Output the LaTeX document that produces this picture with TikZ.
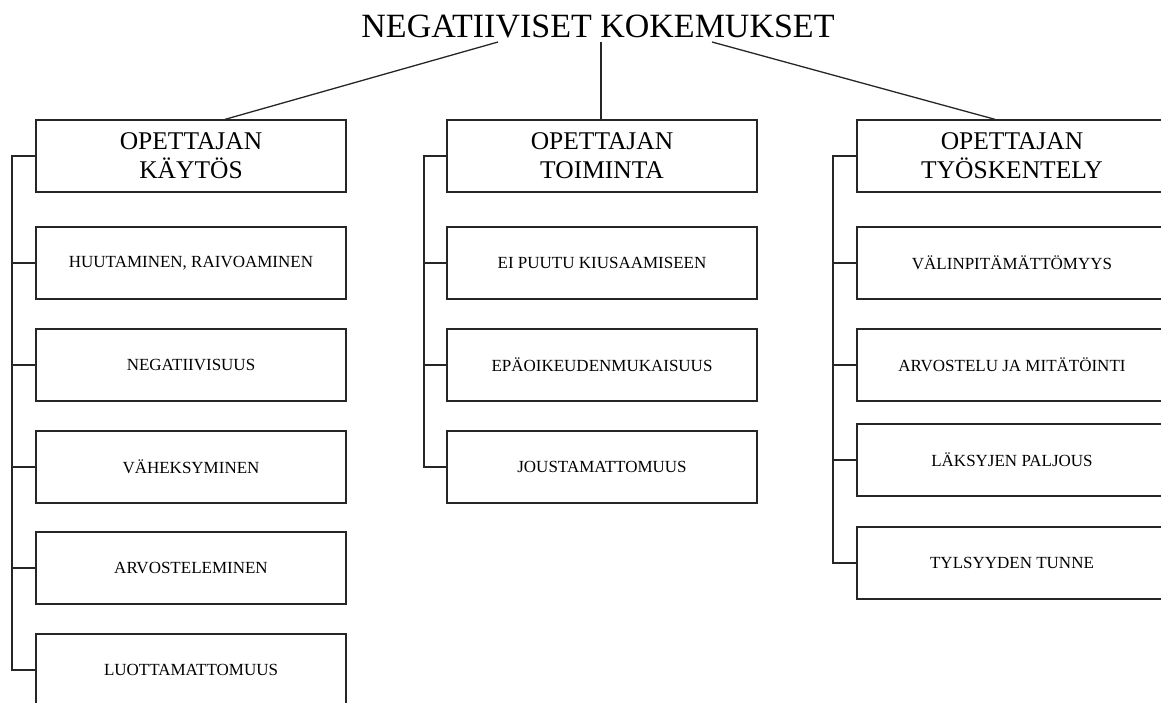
\documentclass[tikz,border=0pt]{standalone}
\usepackage{fontspec}
\setmainfont{Liberation Serif}
\usepackage{tikz}

\begin{document}
\begin{tikzpicture}[x=1pt, y=-1pt,
	every path/.style={draw=black!85, line width=1.3pt},
	every edge/.style={draw=black!85, line width=1.3pt},
	box/.style={rectangle, draw=black!85, line width=1.3pt, minimum width=310pt, minimum height=72pt, inner sep=0pt, font=\fontsize{17}{20}\selectfont},
	head/.style={box, align=center, font=\fontsize{25.5}{29}\selectfont}]
			\useasboundingbox[draw=none] (0,0) rectangle (1161,702);
			\node[inner sep=0pt, anchor=base, font=\fontsize{34}{40}\selectfont] (title) at (598,37) {NEGATIIVISET KOKEMUKSET};
			\coordinate (t1) at (498,42);
			\coordinate (t2) at (601,42);
			\coordinate (t3) at (712,42);
			
			% otsikot
			\node[head] (kaytos) at (191,156) {OPETTAJAN\\KÄYTÖS};
			\node[head] (toiminta) at (602,156) {OPETTAJAN\\TOIMINTA};
			\node[head] (tyo) at (1012,156) {OPETTAJAN\\TYÖSKENTELY};
			
			% vasen sarake
			\node[box] (k1) at (191,263) {HUUTAMINEN, RAIVOAMINEN};
			\node[box] (k2) at (191,365) {NEGATIIVISUUS};
			\node[box] (k3) at (191,467) {VÄHEKSYMINEN};
			\node[box] (k4) at (191,568) {ARVOSTELEMINEN};
			\node[box] (k5) at (191,670) {LUOTTAMATTOMUUS};
			
			% keskimmäinen sarake
			\node[box] (m1) at (602,263) {EI PUUTU KIUSAAMISEEN};
			\node[box] (m2) at (602,365) {EPÄOIKEUDENMUKAISUUS};
			\node[box] (m3) at (602,467) {JOUSTAMATTOMUUS};
			
			% oikea sarake
			\node[box] (r1) at (1012,263) {VÄLINPITÄMÄTTÖMYYS};
			\node[box] (r2) at (1012,365) {ARVOSTELU JA MITÄTÖINTI};
			\node[box] (r3) at (1012,460) {LÄKSYJEN PALJOUS};
			\node[box] (r4) at (1012,563) {TYLSYYDEN TUNNE};
			
			\path (t1) edge ([xshift=34pt]kaytos.north);
			\path (t2) edge ([xshift=-1pt]toiminta.north);
			\path (t3) edge ([xshift=-17pt]tyo.north);
			
			\coordinate (kv) at (12,0);
			\coordinate (mv) at (424,0);
			\coordinate (rv) at (833,0);
			\draw (kaytos.west) -| (kv |- k5.west) -- (k5.west);
			\draw (toiminta.west) -| (mv |- m3.west) -- (m3.west);
			\draw (tyo.west) -| (rv |- r4.west) -- (r4.west);
			\path (k1.west) edge (k1.west -| kv);
			\path (k2.west) edge (k2.west -| kv);
			\path (k3.west) edge (k3.west -| kv);
			\path (k4.west) edge (k4.west -| kv);
			\path (m1.west) edge (m1.west -| mv);
			\path (m2.west) edge (m2.west -| mv);
			\path (r1.west) edge (r1.west -| rv);
			\path (r2.west) edge (r2.west -| rv);
			\path (r3.west) edge (r3.west -| rv);
			\end{tikzpicture}
\end{document}
